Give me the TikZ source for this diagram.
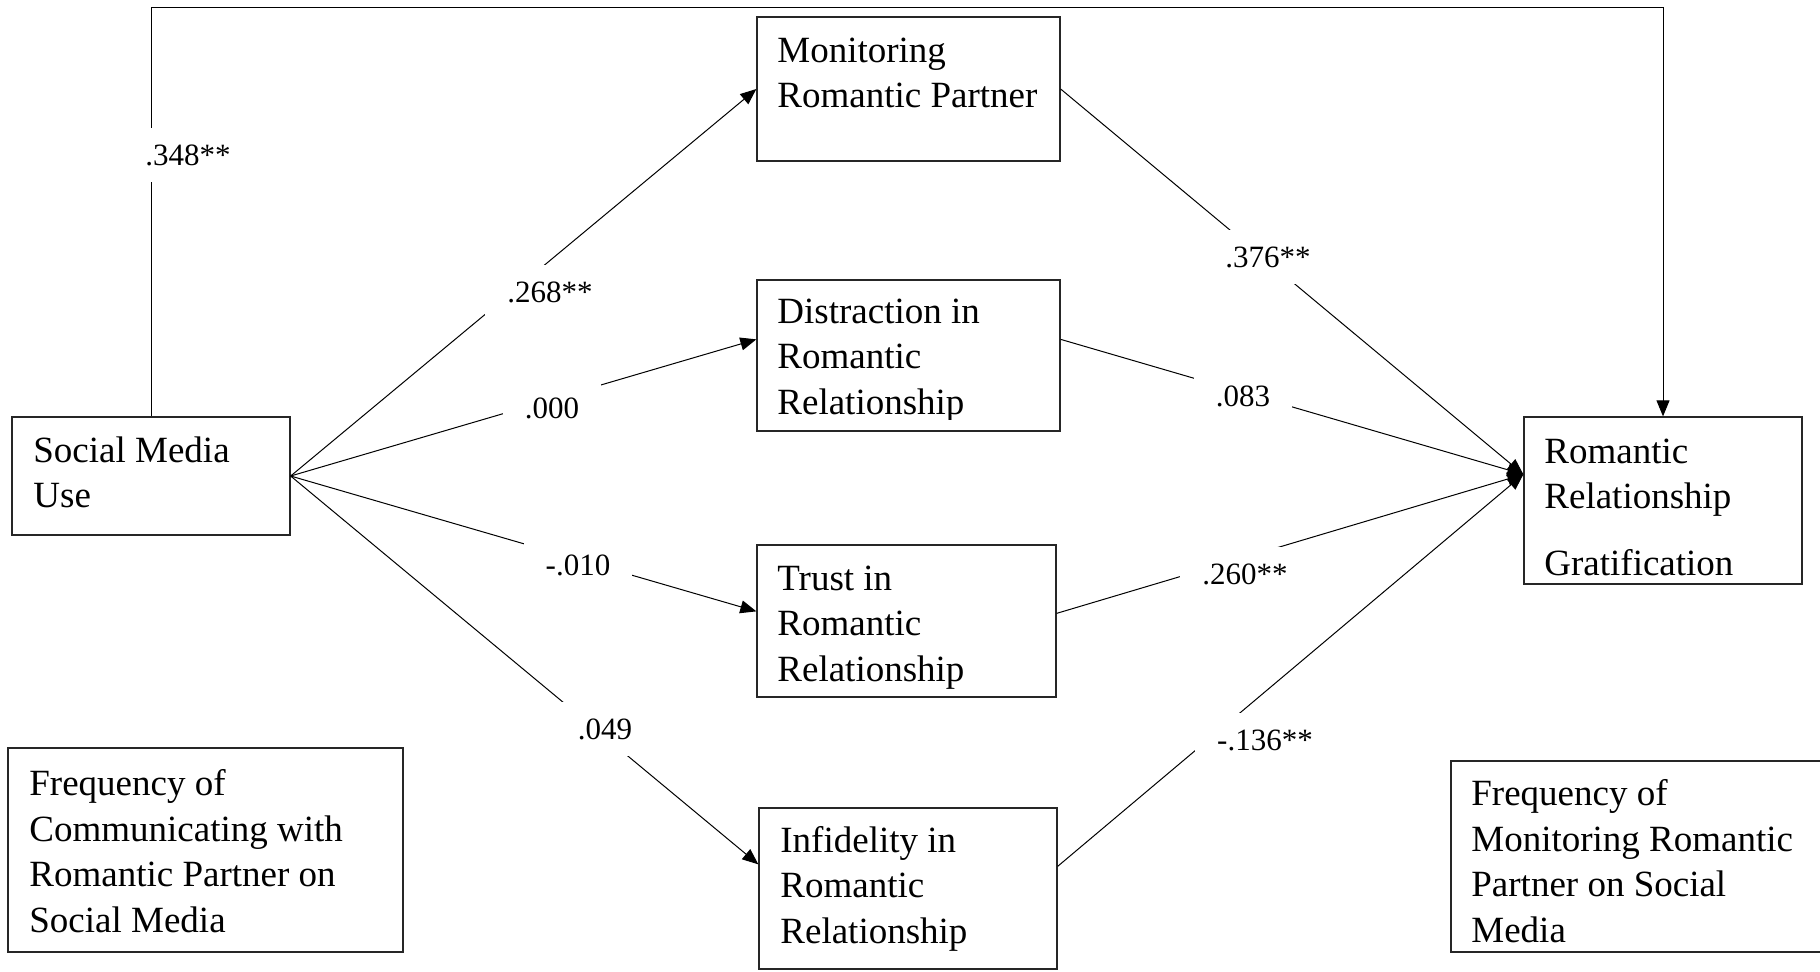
\documentclass[tikz,border=0pt]{standalone}
\usepackage{fontspec}
\setmainfont{Liberation Serif}
\usetikzlibrary{arrows.meta,fit,calc}
\begin{document}
\begin{tikzpicture}[x=0.5pt,y=-0.5pt,
  box/.style={draw=black!85, line width=0.65pt, inner sep=0pt},
  txt/.style={align=left, inner sep=0pt, anchor=base west, font=\fontsize{18.5}{22.75}\selectfont},
  lab/.style={fill=white, inner xsep=11pt, inner ysep=0pt, minimum height=27pt, text height=10.5pt, text depth=0pt, font=\fontsize{15.5}{18}\selectfont},
  conn/.style={line width=0.5pt},
  arr/.style={conn, -{Triangle[length=8pt,width=6.5pt]}}]
\clip (0,0) rectangle (1820,971);
\fill[white] (0,0) rectangle (1820,971);
% boxes
\node[box, fit={(12,417) (290,535)}] (smu) {};
\node[box, fit={(757,17) (1060,161)}] (mon) {};
\node[box, fit={(757,280) (1060,431)}] (dis) {};
\node[box, fit={(757,545) (1056,697)}] (tru) {};
\node[box, fit={(759,808) (1057,969)}] (inf) {};
\node[box, fit={(1524,417) (1802,584)}] (gra) {};
\node[box, fit={(8,748) (403,952)}] (fcl) {};
\node[box, fit={(1451,761) (1830,952)}] (fmr) {};
% texts (anchor = baseline of the last line)
\node[txt] (smutxt) at (33,507.5) {Social Media\\Use};
\node[txt] (montxt) at (777,107.5) {Monitoring\\Romantic Partner};
\begin{scope}
\clip (757,280) rectangle (1060,419);
\node[txt] (distxt) at (777,414) {Distraction in\\Romantic\\Relationship};
\end{scope}
\node[txt] (trutxt) at (777,681) {Trust in\\Romantic\\Relationship};
\node[txt] (inftxt) at (780,943) {Infidelity in\\Romantic\\Relationship};
\node[txt] (gratxt) at (1544,575) {Romantic\\Relationship\\[10.5pt]Gratification};
\node[txt] (fcltxt) at (29,932) {Frequency of\\Communicating with\\Romantic Partner on\\Social Media};
\begin{scope}
\clip (1451,761) rectangle (1820,944);
\node[txt] (fmrtxt) at (1471,942) {Frequency of\\Monitoring Romantic\\Partner on Social\\Media};
\end{scope}
% connectors
\coordinate (fbk) at (0,7);
\coordinate (grain) at ([yshift=-29pt]gra.north west);
\draw[arr] (smu.north) -- (smu.north |- fbk) -| (gra.north);
\draw[arr] (smu.east) -- (mon.west);
\draw[arr] (smu.east) -- ([yshift=-30pt]dis.north west);
\draw[arr] (smu.east) -- ([yshift=-33.5pt]tru.north west);
\draw[arr] (smu.east) -- ([yshift=-28.5pt]inf.north west);
\draw[arr] (mon.east) -- (grain);
\draw[arr] ([yshift=-30pt]dis.north east) -- (grain);
\draw[arr] ([yshift=-34.5pt]tru.north east) -- (grain);
\draw[arr] ([yshift=-29.5pt]inf.north east) -- (grain);
% labels
\node[lab] (l348) at (188,155) {.348**};
\node[lab] (l268) at (550,292) {.268**};
\node[lab] (l000) at (552,408) {.000};
\node[lab] (l010) at (578,565) {-.010};
\node[lab] (l049) at (605,729) {.049};
\node[lab] (l376) at (1268,257) {.376**};
\node[lab] (l083) at (1243,396) {.083};
\node[lab] (l260) at (1245,574) {.260**};
\node[lab] (l136) at (1265,740) {-.136**};
\end{tikzpicture}
\end{document}
